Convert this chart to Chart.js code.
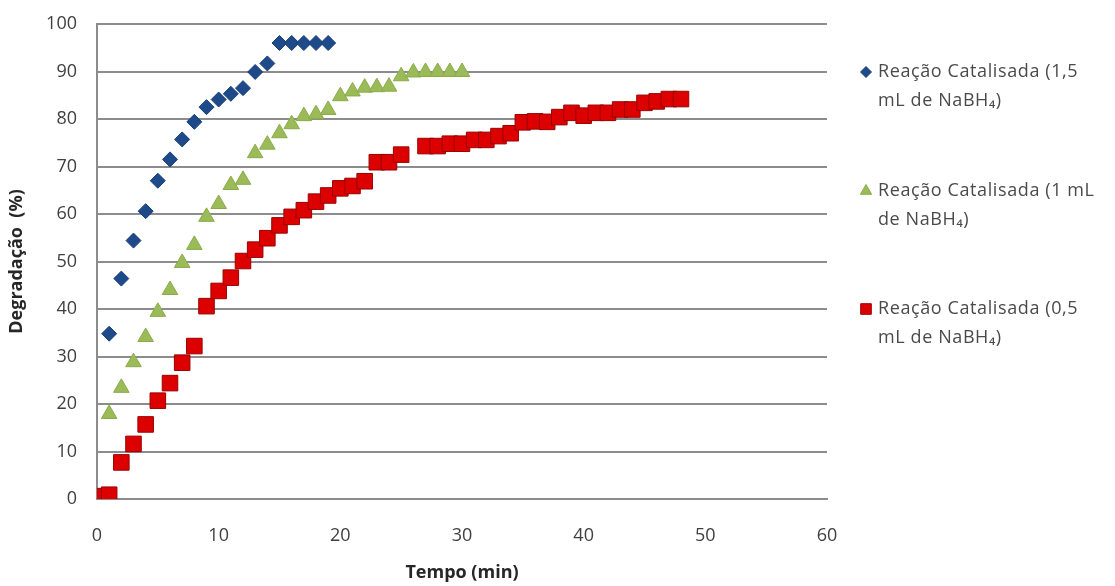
<!DOCTYPE html>
<html>
<head>
<meta charset="utf-8">
<script src="https://cdn.jsdelivr.net/npm/chart.js@4.4.1/dist/chart.umd.min.js"></script>
<style>
  body { margin: 0; background: #fff; }
  #wrap { width: 1115px; height: 586px; }
</style>
</head>
<body>
<div id="wrap"><canvas id="canvas" width="1115" height="586"></canvas></div>
<script>
//Data (tempo em minutos, degradação em %)
var tempo15 = [1, 2, 3, 4, 5, 6, 7, 8, 9, 10, 11, 12, 13, 14, 15, 16, 17, 18, 19];
var degr15 = [34.8, 46.4, 54.4, 60.6, 67, 71.5, 75.7, 79.4, 82.5, 84.1, 85.3, 86.5, 89.9, 91.7, 96, 96, 96, 96, 96];

var tempo10 = [1, 2, 3, 4, 5, 6, 7, 8, 9, 10, 11, 12, 13, 14, 15, 16, 17, 18, 19, 20, 21, 22, 23, 24, 25, 26, 27, 28, 29, 30];
var degr10 = [17.9, 23.4, 28.8, 34.1, 39.4, 44, 49.7, 53.5, 59.4, 62.1, 66.1, 67.2, 72.8, 74.6, 77, 78.9, 80.6, 81, 81.9, 84.8, 85.8, 86.6, 86.7, 86.8, 89, 89.8, 89.9, 89.9, 89.9, 89.9];

var tempo05 = [0, 1, 2, 3, 4, 5, 6, 7, 8, 9, 10, 11, 12, 13, 14, 15, 16, 17, 18, 19, 20, 21, 22, 23, 24, 25,
    27, 28, 29, 30, 31, 32, 33, 34, 35, 36, 37, 38, 39, 40, 41, 42, 43, 44, 45, 46, 47, 48];
var degr05 = [0.6, 0.9, 7.7, 11.6, 15.7, 20.7, 24.4, 28.7, 32.2, 40.6, 43.8, 46.6, 50.1, 52.5, 54.9, 57.6, 59.4, 60.8, 62.6, 63.9, 65.4, 65.9, 66.9, 70.9, 70.9, 72.5,
    74.3, 74.3, 74.8, 74.8, 75.6, 75.6, 76.4, 77, 79.3, 79.5, 79.4, 80.4, 81.3, 80.7, 81.3, 81.3, 82, 82, 83.4, 83.7, 84.2, 84.2];

var xTicks = [0, 10, 20, 30, 40, 50, 60];
var yTicks = [0, 10, 20, 30, 40, 50, 60, 70, 80, 90, 100];

var legendLines = [
    ['Reação Catalisada (1,5', 'mL de NaBH₄)'],
    ['Reação Catalisada (1 mL', 'de NaBH₄)'],
    ['Reação Catalisada (0,5', 'mL de NaBH₄)']
];

var FONT = '"Open Sans", "DejaVu Sans", sans-serif';

function toPoints(xs, ys) {
    var pts = [];
    for (var i = 0; i < xs.length; i++) {
        pts.push({x: xs[i], y: ys[i]});
    }
    return pts;
}

//legend drawn on the right, two lines per entry
var sideLegend = {
    id: 'sideLegend',
    afterDraw: function (chart) {
        var ctx = chart.ctx;
        var x0 = 866;
        var tops = [72, 191, 309];
        ctx.save();
        for (var i = 0; i < chart.data.datasets.length; i++) {
            var ds = chart.data.datasets[i];
            var y = tops[i];
            ctx.fillStyle = ds.backgroundColor;
            ctx.strokeStyle = ds.borderColor;
            ctx.lineWidth = 1;
            Chart.helpers.drawPoint(ctx, {
                pointStyle: ds.pointStyle,
                radius: ds.legendRadius,
                borderWidth: 1
            }, x0, y);
            ctx.fillStyle = '#4a4a4a';
            ctx.font = '18px ' + FONT;
            ctx.letterSpacing = '0.6px';
            ctx.textBaseline = 'middle';
            ctx.textAlign = 'left';
            ctx.fillText(legendLines[i][0], x0 + 12, y);
            ctx.fillText(legendLines[i][1], x0 + 12, y + 29);
        }
        ctx.restore();
    }
};

var config = {
    type: 'scatter',
    data: {
        datasets: [{
            label: legendLines[0].join(' '),
            data: toPoints(tempo15, degr15),
            pointStyle: 'rectRot',
            pointRadius: 7.5,
            legendRadius: 5.5,
            backgroundColor: '#1f4a8a',
            borderColor: '#1a3f78',
            borderWidth: 1
        }, {
            label: legendLines[1].join(' '),
            data: toPoints(tempo10, degr10),
            pointStyle: 'triangle',
            pointRadius: 9,
            legendRadius: 6.5,
            backgroundColor: '#9bbb59',
            borderColor: '#8aab4a',
            borderWidth: 1
        }, {
            label: legendLines[2].join(' '),
            data: toPoints(tempo05, degr05),
            pointStyle: 'rect',
            pointRadius: 11,
            legendRadius: 7.5,
            backgroundColor: '#dc0000',
            borderColor: '#9a0000',
            borderWidth: 1
        }]
    },
    options: {
        responsive: false,
        animation: false,
        layout: { padding: { top: 24, right: 288, left: 0, bottom: 0 } },
        plugins: {
            legend: { display: false },
            tooltip: { enabled: false }
        },
        scales: {
            x: {
                type: 'linear',
                min: 0,
                max: 60,
                afterFit: function (scale) { scale.height = 87; },
                afterBuildTicks: function (scale) {
                    scale.ticks = xTicks.map(function (v) { return {value: v}; });
                },
                grid: { display: false, drawTicks: false },
                border: { display: true, color: '#8c8c8c', width: 2 },
                ticks: {
                    padding: 26,
                    color: '#404040',
                    font: { family: FONT, size: 18 }
                },
                title: {
                    display: true,
                    text: 'Tempo (min)',
                    color: '#262626',
                    padding: { top: 0, bottom: 2 },
                    font: { family: FONT, size: 18, weight: 'bold' }
                }
            },
            y: {
                min: 0,
                max: 100,
                afterFit: function (scale) {
                    // fixed axis width, no extra room above the top label
                    scale.width = 97;
                    scale.paddingTop = 0;
                    scale.paddingBottom = 0;
                },
                afterBuildTicks: function (scale) {
                    scale.ticks = yTicks.map(function (v) { return {value: v}; });
                },
                grid: { color: '#8c8c8c', lineWidth: 2, drawTicks: false },
                border: { display: true, color: '#8c8c8c', width: 2 },
                ticks: {
                    padding: 20,
                    color: '#404040',
                    font: { family: FONT, size: 18 }
                },
                title: {
                    display: true,
                    text: 'Degradação  (%)',
                    color: '#262626',
                    padding: { top: 6, bottom: 0 },
                    font: { family: FONT, size: 18, weight: 'bold' }
                }
            }
        }
    },
    plugins: [sideLegend]
};

window.onload = function () {
    var ctx = document.getElementById('canvas').getContext('2d');
    window.myChart = new Chart(ctx, config);
};
</script>
</body>
</html>
